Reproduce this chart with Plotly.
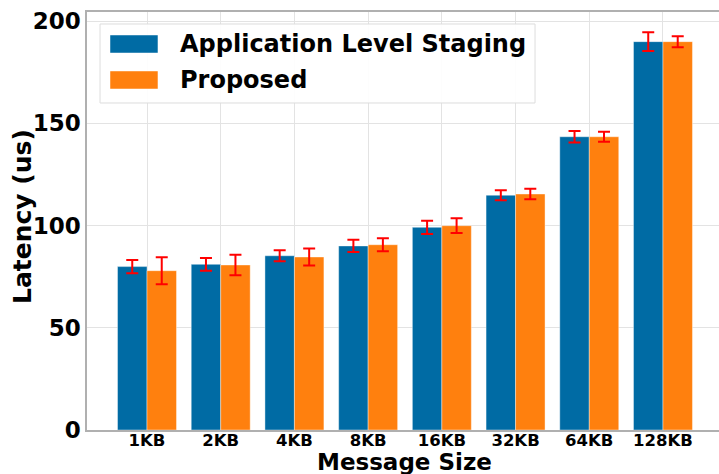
import plotly.graph_objects as go

categories = ["1KB", "2KB", "4KB", "8KB", "16KB", "32KB", "64KB", "128KB"]
staging = [79.9, 81.0, 85.2, 90.0, 99.1, 114.8, 143.4, 189.9]
staging_err = [3.2, 3.1, 2.7, 3.0, 3.2, 2.4, 2.8, 4.6]
proposed = [77.9, 80.7, 84.6, 90.6, 99.9, 115.4, 143.4, 189.9]
proposed_err = [6.6, 5.0, 4.1, 3.2, 3.6, 2.6, 2.4, 2.7]
series_names = ["Application Level Staging", "Proposed"]
series_colors = ["#006BA4", "#FF800E"]

FONT = "DejaVu Sans"
xs = list(range(len(categories)))

fig = go.Figure()
for name, vals, errs, col in zip(series_names, [staging, proposed],
                                 [staging_err, proposed_err], series_colors):
    fig.add_trace(go.Bar(
        x=xs, y=vals, name=name, showlegend=False,
        marker=dict(color=col, line=dict(color="rgba(255,255,255,0.5)", width=0.8)),
        error_y=dict(type="data", array=errs, color="#FF0000", thickness=2, width=6),
    ))

# custom legend (larger swatches, like the reference)
shapes = [dict(type="rect", xref="paper", yref="paper",
               x0=0.0206, x1=0.7089, y0=0.7823, y1=0.9713,
               fillcolor="rgba(255,255,255,0.9)", line=dict(color="#dddddd", width=1),
               layer="above")]
annotations = []
sw_y = [(0.9019, 0.945), (0.8158, 0.8589)]
txt_y = [0.9234, 0.8373]
for i, (name, col) in enumerate(zip(series_names, series_colors)):
    shapes.append(dict(type="rect", xref="paper", yref="paper",
                       x0=0.0364, x1=0.1123, y0=sw_y[i][0], y1=sw_y[i][1],
                       fillcolor=col, line=dict(color="rgba(255,255,255,0.6)", width=0.8),
                       layer="above"))
    annotations.append(dict(xref="paper", yref="paper", x=0.144, y=txt_y[i],
                            xanchor="left", yanchor="middle", showarrow=False,
                            text=name, font=dict(family=FONT, size=24, color="black", weight="bold")))

# axis titles
annotations.append(dict(xref="paper", yref="paper", x=0.503, y=-0.076,
                        xanchor="center", yanchor="middle", showarrow=False,
                        text="Message Size", font=dict(family=FONT, size=23, color="black", weight="bold")))
annotations.append(dict(xref="paper", yref="paper", x=-0.1013, y=0.512,
                        xanchor="center", yanchor="middle", showarrow=False, textangle=-90,
                        text="Latency (us)", font=dict(family=FONT, size=25, color="black", weight="bold")))

fig.update_layout(
    width=719, height=474,
    margin=dict(l=87, r=0, t=12, b=44),
    barmode="group", bargap=0.2, bargroupgap=0,
    plot_bgcolor="white", paper_bgcolor="white",
    font=dict(family=FONT, color="black", weight="bold"),
    shapes=shapes, annotations=annotations,
    xaxis=dict(
        tickmode="array", tickvals=xs, ticktext=categories,
        range=[-0.814, 7.76],
        tickfont=dict(family=FONT, size=16.5, weight="bold"),
        ticklabelstandoff=-6,
        showgrid=True, gridcolor="#e3e3e3", gridwidth=1,
        showline=True, linecolor="#b0b0b0", linewidth=1.5, mirror=True,
        ticks="", zeroline=False,
    ),
    yaxis=dict(
        range=[0, 204.4],
        tickvals=[0, 50, 100, 150, 200],
        tickfont=dict(family=FONT, size=23, weight="bold"),
        showgrid=True, gridcolor="#e3e3e3", gridwidth=1,
        showline=True, linecolor="#b0b0b0", linewidth=1.5,
        ticks="", zeroline=False,
    ),
)

fig.write_html("out.html")
